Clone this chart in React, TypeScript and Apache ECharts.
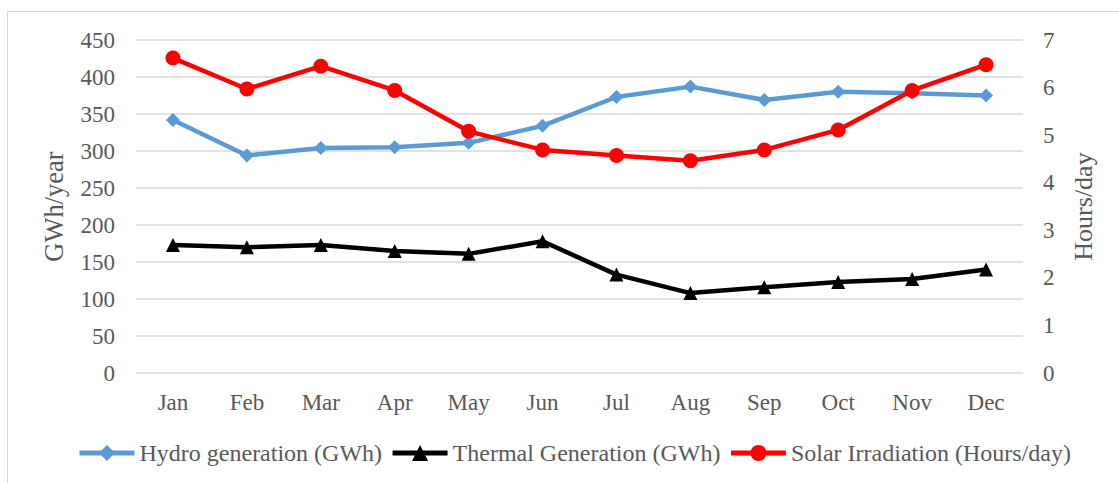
import React, { useEffect, useRef } from "react";
import * as echarts from "echarts";

const months = ["Jan", "Feb", "Mar", "Apr", "May", "Jun", "Jul", "Aug", "Sep", "Oct", "Nov", "Dec"];
const hydro = [342, 294, 304, 305, 311, 334, 373, 387, 369, 380, 378, 375];
const thermal = [173, 170, 173, 165, 161, 178, 133, 108, 116, 123, 127, 140];
const solar = [6.62, 5.97, 6.45, 5.94, 5.08, 4.69, 4.57, 4.46, 4.69, 5.11, 5.94, 6.48];

const FONT = "'Liberation Serif', 'Times New Roman', serif";
const GRAY = "#595959";

export default function App() {
  const ref = useRef<HTMLDivElement>(null);
  useEffect(() => {
    const chart = echarts.init(ref.current!, null, { renderer: "svg" });
    chart.setOption({
      animation: false,
      textStyle: { fontFamily: FONT },
      graphic: [
        { type: "line", shape: { x1: 7, y1: 11.5, x2: 1119, y2: 11.5 }, style: { stroke: "#d9d9d9", lineWidth: 1 } },
        { type: "line", shape: { x1: 7.5, y1: 11, x2: 7.5, y2: 483 }, style: { stroke: "#d9d9d9", lineWidth: 1 } },
      ],
      grid: { left: 136, right: 96, top: 40, bottom: 110 },
      legend: {
        bottom: 13,
        left: 72,
        itemWidth: 55,
        itemHeight: 20,
        itemGap: 8,
        lineStyle: { width: 5 },
        textStyle: { fontFamily: FONT, fontSize: 24, color: GRAY },
        data: ["Hydro generation (GWh)", "Thermal Generation (GWh)", "Solar Irradiation (Hours/day)"],
      },
      xAxis: {
        type: "category",
        data: months,
        axisLine: { show: false },
        axisTick: { show: false },
        axisLabel: { fontFamily: FONT, fontSize: 23, color: GRAY, margin: 18 },
      },
      yAxis: [
        {
          type: "value",
          min: 0,
          max: 450,
          interval: 50,
          name: "GWh/year",
          nameLocation: "middle",
          nameRotate: 90,
          nameGap: 69,
          nameTextStyle: { fontFamily: FONT, fontSize: 26.5, color: GRAY },
          axisLabel: { fontFamily: FONT, fontSize: 23, color: GRAY, margin: 21 },
          splitLine: { lineStyle: { color: "#d9d9d9", width: 1.5 } },
          axisLine: { show: false },
          axisTick: { show: false },
        },
        {
          type: "value",
          min: 0,
          max: 7,
          interval: 1,
          position: "right",
          name: "Hours/day",
          nameLocation: "middle",
          nameRotate: 90,
          nameGap: 47,
          nameTextStyle: { fontFamily: FONT, fontSize: 26, color: GRAY },
          axisLabel: { fontFamily: FONT, fontSize: 23, color: GRAY, margin: 20 },
          splitLine: { show: false },
          axisLine: { show: false },
          axisTick: { show: false },
        },
      ],
      series: [
        {
          name: "Hydro generation (GWh)",
          type: "line",
          data: hydro,
          yAxisIndex: 0,
          symbol: "diamond",
          symbolSize: 14,
          lineStyle: { color: "#5b9bd5", width: 4.5 },
          itemStyle: { color: "#5b9bd5" },
        },
        {
          name: "Thermal Generation (GWh)",
          type: "line",
          data: thermal,
          yAxisIndex: 0,
          symbol: "triangle",
          symbolSize: 14,
          lineStyle: { color: "#000000", width: 4.5 },
          itemStyle: { color: "#000000" },
        },
        {
          name: "Solar Irradiation (Hours/day)",
          type: "line",
          data: solar,
          yAxisIndex: 1,
          symbol: "circle",
          symbolSize: 15,
          lineStyle: { color: "#ff0000", width: 4.5 },
          itemStyle: { color: "#ff0000" },
        },
      ],
    });
    return () => chart.dispose();
  }, []);
  return (
    <div
      ref={ref}
      style={{ position: "absolute", left: 0, top: 0, width: 1119, height: 483, background: "#fff" }}
    />
  );
}
